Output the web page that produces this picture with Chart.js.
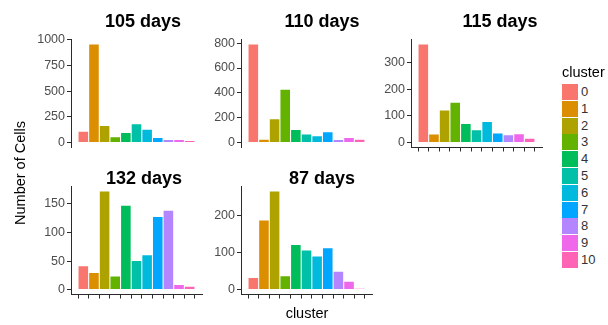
<!DOCTYPE html>
<html>
<head>
<meta charset="utf-8">
<script src="https://cdn.jsdelivr.net/npm/chart.js@4/dist/chart.umd.min.js"></script>
<style>
  html, body { margin: 0; padding: 0; background: #ffffff; }
  #fig { position: relative; width: 608px; height: 325px; overflow: hidden; font-family: "Liberation Sans", Arial, sans-serif; }
  #fig canvas { position: absolute; }
  .strip { position: absolute; width: 140px; text-align: center; font-weight: bold; font-size: 18px; line-height: 20px; color: #000; }
  .axt { position: absolute; text-align: center; font-size: 14.5px; line-height: 18px; color: #000; }
  .key { position: absolute; width: 16px; height: 16px; }
  .klab { position: absolute; font-size: 13px; line-height: 16px; color: #333; }
</style>
</head>
<body>
<div id="fig"></div>
<script>
// cluster ids and their ggplot hue colours
const clusters = ['0', '1', '2', '3', '4', '5', '6', '7', '8', '9', '10'];
const clusterColors = ['#F8766D', '#DB8E00', '#AEA200', '#64B200', '#00BD5C', '#00C1A7',
                       '#00BADE', '#00A6FF', '#B385FF', '#EF67EB', '#FF63B6'];

// sample ages (facet titles)
const ages = ['105 days', '110 days', '115 days', '132 days', '87 days'];

// cells per cluster for each age
const cells105 = [105, 955, 162, 53, 93, 178, 124, 44, 25, 25, 16];
const cells110 = [790, 23, 187, 426, 101, 65, 52, 83, 21, 37, 23];
const cells115 = [369, 30, 121, 150, 70, 46, 77, 34, 28, 31, 14];
const cells132 = [41, 29, 172, 23, 147, 50, 60, 127, 138, 8, 5];
const cells87  = [31, 186, 264, 36, 120, 105, 89, 111, 48, 21, 2];

// y-axis breaks per facet
const ticks105 = [0, 250, 500, 750, 1000];
const ticks110 = [0, 200, 400, 600, 800];
const ticks115 = [0, 100, 200, 300];
const ticks132 = [0, 50, 100, 150];
const ticks87  = [0, 100, 200];

// facet layout: panel box (plot area) in page pixels, strip title centre
const panels = [
  { title: ages[0], values: cells105, breaks: ticks105, x: 71,  y: 37,  xAxis: false, tx: 143, ty: 21 },
  { title: ages[1], values: cells110, breaks: ticks110, x: 241, y: 37,  xAxis: false, tx: 322, ty: 21 },
  { title: ages[2], values: cells115, breaks: ticks115, x: 411, y: 37,  xAxis: true,  tx: 500, ty: 21 },
  { title: ages[3], values: cells132, breaks: ticks132, x: 71,  y: 184, xAxis: true,  tx: 144, ty: 178 },
  { title: ages[4], values: cells87,  breaks: ticks87,  x: 241, y: 184, xAxis: true,  tx: 322, ty: 178 }
];
const PW = 131, PH = 112;           // plot area size
const LEFT = 46, TOP = 7, RIGHT = 4, BOTTOM = 8;

const fig = document.getElementById('fig');
const lineCol = '#2b2b2b';
const tickFont = { family: '"Liberation Sans", Arial, sans-serif', size: 12.5 };

panels.forEach(p => {
  const cv = document.createElement('canvas');
  cv.width = LEFT + PW + RIGHT;
  cv.height = TOP + PH + BOTTOM;
  cv.style.left = (p.x - LEFT) + 'px';
  cv.style.top = (p.y - TOP) + 'px';
  fig.appendChild(cv);

  const top = Math.max(...p.values);
  new Chart(cv, {
    type: 'bar',
    data: {
      datasets: [{
        data: p.values.map((v, i) => ({ x: i, y: v })),
        backgroundColor: clusterColors,
        borderWidth: 0,
        barPercentage: 0.9,
        categoryPercentage: 1
      }]
    },
    options: {
      responsive: false,
      animation: false,
      devicePixelRatio: 1,
      layout: { padding: { top: TOP, right: RIGHT, left: 0, bottom: 0 } },
      plugins: { legend: { display: false }, tooltip: { enabled: false } },
      scales: {
        x: {
          type: 'linear',
          min: -0.6,
          max: clusters.length - 1 + 0.6,
          afterBuildTicks: s => { s.ticks = clusters.map((_, i) => ({ value: i })); },
          afterFit: s => { s.height = BOTTOM; },
          ticks: { display: false },
          border: { display: p.xAxis, color: lineCol, width: 1 },
          grid: { drawOnChartArea: false, drawTicks: p.xAxis, tickLength: 4, color: lineCol, lineWidth: 1 }
        },
        y: {
          type: 'linear',
          min: -0.05 * top,
          max: 1.05 * top,
          afterBuildTicks: s => { s.ticks = p.breaks.map(v => ({ value: v })); },
          afterFit: s => { s.width = LEFT; },
          ticks: { color: '#4d4d4d', font: tickFont, padding: 2, callback: v => String(v) },
          border: { display: true, color: lineCol, width: 1 },
          grid: { drawOnChartArea: false, drawTicks: true, tickLength: 4, color: lineCol, lineWidth: 1 }
        }
      }
    }
  });

  const t = document.createElement('div');
  t.className = 'strip';
  t.textContent = p.title;
  t.style.left = (p.tx - 70) + 'px';
  t.style.top = (p.ty - 10) + 'px';
  fig.appendChild(t);
});

// axis titles
const xt = document.createElement('div');
xt.className = 'axt';
xt.textContent = 'cluster';
xt.style.left = (307 - 50) + 'px';
xt.style.width = '100px';
xt.style.top = (313 - 9) + 'px';
fig.appendChild(xt);

const yt = document.createElement('div');
yt.className = 'axt';
yt.textContent = 'Number of Cells';
yt.style.width = '160px';
yt.style.left = (20 - 80) + 'px';
yt.style.top = (173 - 9) + 'px';
yt.style.transform = 'rotate(-90deg)';
fig.appendChild(yt);

// legend
const lt = document.createElement('div');
lt.className = 'axt';
lt.textContent = 'cluster';
lt.style.left = '562px';
lt.style.textAlign = 'left';
lt.style.top = (72 - 9) + 'px';
fig.appendChild(lt);

clusters.forEach((c, i) => {
  const cy = 92 + 16.8 * i;
  const k = document.createElement('div');
  k.className = 'key';
  k.style.background = clusterColors[i];
  k.style.left = '562px';
  k.style.top = (cy - 8) + 'px';
  fig.appendChild(k);
  const l = document.createElement('div');
  l.className = 'klab';
  l.textContent = c;
  l.style.left = '581px';
  l.style.top = (cy - 8) + 'px';
  fig.appendChild(l);
});
</script>
</body>
</html>
